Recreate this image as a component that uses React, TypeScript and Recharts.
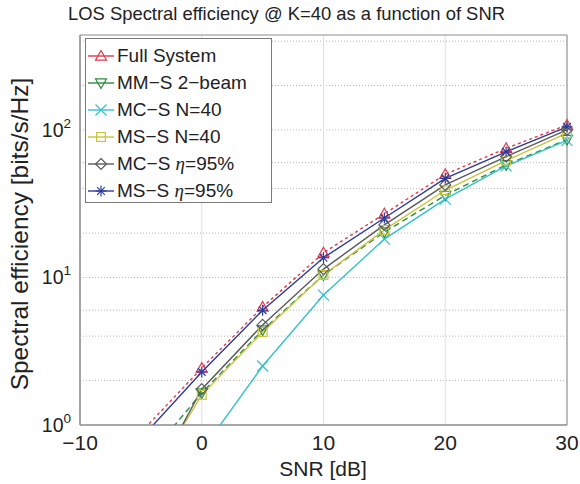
import React from "react";
import { LineChart, Line, XAxis, YAxis, CartesianGrid, ReferenceArea } from "recharts";

// SNR points in dB (the -5 dB point sits below the axis and only shows as the line leaving the plot)
const snrDb = [-5, 0, 5, 10, 15, 20, 25, 30];
const fullSystem = [0.89, 2.43, 6.3, 14.7, 27, 50, 75, 108];
const mmS2Beam = [0.53, 1.65, 4.4, 10.4, 20.3, 36, 58, 86];
const mcSN40 = [0.2, 0.67, 2.51, 7.6, 18.2, 34, 57, 85];
const msSN40 = [0.33, 1.6, 4.27, 10.4, 21, 39, 62, 95];
const mcSEta95 = [0.3, 1.75, 4.77, 11.4, 22.7, 42.4, 66, 100];
const msSEta95 = [0.81, 2.29, 6.0, 13.6, 25.3, 47, 71, 105];

const xTicks = [-10, 0, 10, 20, 30];
const yTicks = [1, 10, 100];
const yGridValues = [2, 3, 4, 5, 6, 7, 8, 9, 10, 20, 30, 40, 50, 60, 70, 80, 90, 100, 200, 300, 400];

const FONT = '"Liberation Sans", Arial, Helvetica, sans-serif';
const TEXT = "#222";

const series = [
  { key: "full", name: "Full System", color: "#e03a4e", dash: "3 3", shape: "triUp" },
  { key: "mm", name: "MM\u2212S 2\u2212beam", color: "#2e8c40", dash: "6 4", shape: "triDown" },
  { key: "mcN", name: "MC\u2212S N=40", color: "#33c2c9", dash: undefined, shape: "cross" },
  { key: "msN", name: "MS\u2212S N=40", color: "#c9c43c", dash: undefined, shape: "square" },
  { key: "mcEta", name: "MC\u2212S \u03b7=95%", color: "#5a5a5a", dash: undefined, shape: "diamond" },
  { key: "msEta", name: "MS\u2212S \u03b7=95%", color: "#2d3b9a", dash: undefined, shape: "star" }
];

const data = snrDb.map((snr, i) => ({
  snr,
  full: fullSystem[i],
  mm: mmS2Beam[i],
  mcN: mcSN40[i],
  msN: msSN40[i],
  mcEta: mcSEta95[i],
  msEta: msSEta95[i]
}));

const Marker = ({ shape, cx, cy, color }: { shape: string; cx: number; cy: number; color: string }) => {
  const s = 5.5;
  const common = { stroke: color, strokeWidth: 1.2, fill: "none" };
  switch (shape) {
    case "triUp":
      return <polygon points={`${cx},${cy - s} ${cx + s},${cy + s * 0.75} ${cx - s},${cy + s * 0.75}`} {...common} />;
    case "triDown":
      return <polygon points={`${cx},${cy + s} ${cx + s},${cy - s * 0.75} ${cx - s},${cy - s * 0.75}`} {...common} />;
    case "cross":
      return (
        <g {...common}>
          <line x1={cx - s} y1={cy - s} x2={cx + s} y2={cy + s} />
          <line x1={cx - s} y1={cy + s} x2={cx + s} y2={cy - s} />
        </g>
      );
    case "square":
      return <rect x={cx - s * 0.8} y={cy - s * 0.8} width={s * 1.6} height={s * 1.6} {...common} />;
    case "diamond":
      return <polygon points={`${cx},${cy - s} ${cx + s},${cy} ${cx},${cy + s} ${cx - s},${cy}`} {...common} />;
    default:
      return (
        <g {...common}>
          <line x1={cx} y1={cy - s} x2={cx} y2={cy + s} />
          <line x1={cx - s} y1={cy} x2={cx + s} y2={cy} />
          <line x1={cx - s * 0.7} y1={cy - s * 0.7} x2={cx + s * 0.7} y2={cy + s * 0.7} />
          <line x1={cx - s * 0.7} y1={cy + s * 0.7} x2={cx + s * 0.7} y2={cy - s * 0.7} />
        </g>
      );
  }
};

const XTick = ({ x, y, payload }: any) => (
  <text x={x} y={y} dy={17} textAnchor="middle" fontSize={21} fill={TEXT} fontFamily={FONT}>
    {String(payload.value).replace("-", "\u2212")}
  </text>
);

const YTick = ({ x, y, payload }: any) => {
  const exp = Math.round(Math.log10(payload.value));
  return (
    <text x={x - 1} y={y + 7} textAnchor="end" fontSize={19.5} fill={TEXT} fontFamily={FONT}>
      10
      <tspan dy={-9} fontSize={13.5}>
        {exp}
      </tspan>
    </text>
  );
};

const legendLabel = (name: string) => {
  const parts = name.split("\u03b7");
  if (parts.length < 2) return name;
  return (
    <>
      {parts[0]}
      <span style={{ fontStyle: "italic", fontFamily: '"Liberation Serif", serif' }}>{"\u03b7"}</span>
      {parts[1]}
    </>
  );
};

export default function App() {
  return (
    <div
      style={{
        position: "absolute",
        left: 0,
        top: 0,
        width: 580,
        height: 484,
        overflow: "hidden",
        fontFamily: FONT,
        background: "#fff"
      }}
    >
      <div
        style={{
          position: "absolute",
          left: 68,
          top: 3,
          fontSize: 18.4,
          lineHeight: "21px",
          whiteSpace: "nowrap",
          color: TEXT
        }}
      >
        LOS Spectral efficiency @ K=40 as a function of SNR
      </div>
      <LineChart width={580} height={484} data={data} margin={{ top: 35, right: 13, bottom: 0, left: 0 }}>
        <CartesianGrid vertical={false} horizontalValues={yGridValues} stroke="#b8b8b8" strokeDasharray="1 2" />
        <CartesianGrid horizontal={false} stroke="#e0e0e0" />
        <XAxis
          type="number"
          dataKey="snr"
          domain={[-10, 30]}
          ticks={xTicks}
          height={59}
          axisLine={{ stroke: "#8a8a8a" }}
          tickLine={false}
          tick={<XTick />}
          label={{
            content: () => (
              <text x={323} y={476} textAnchor="middle" fontSize={21} fill={TEXT} fontFamily={FONT}>
                SNR [dB]
              </text>
            )
          }}
        />
        <YAxis
          scale="log"
          domain={[1, 440]}
          allowDataOverflow
          ticks={yTicks}
          width={80}
          axisLine={{ stroke: "#8a8a8a" }}
          tickLine={false}
          tick={<YTick />}
          label={{
            content: () => (
              <text
                x={19}
                y={234}
                transform="rotate(-90 19 234)"
                textAnchor="middle"
                dominantBaseline="central"
                fontSize={24.5}
                fill={TEXT}
                fontFamily={FONT}
              >
                Spectral efficiency [bits/s/Hz]
              </text>
            )
          }}
        />
        <ReferenceArea x1={-10} x2={30} y1={1} y2={440} fill="none" stroke="#8a8a8a" strokeWidth={1} />
        {series.map((s) => (
          <Line
            key={s.key}
            dataKey={s.key}
            name={s.name}
            stroke={s.color}
            strokeWidth={1.4}
            strokeDasharray={s.dash}
            isAnimationActive={false}
            dot={(p: any) => <Marker key={`${s.key}-${p.index}`} shape={s.shape} cx={p.cx} cy={p.cy} color={s.color} />}
            activeDot={false}
          />
        ))}
      </LineChart>
      <div
        style={{
          position: "absolute",
          left: 85,
          top: 38,
          width: 187,
          height: 165,
          boxSizing: "border-box",
          border: "1px solid #7a7a7a",
          background: "#fff",
          paddingTop: 3
        }}
      >
        {series.map((s) => (
          <div key={s.key} style={{ height: 27, display: "flex", alignItems: "center" }}>
            <svg width={26} height={16} style={{ marginLeft: 2, marginRight: 3, flex: "none" }}>
              <line x1={0} y1={8} x2={26} y2={8} stroke={s.color} strokeWidth={1.4} />
              <Marker shape={s.shape} cx={13} cy={8} color={s.color} />
            </svg>
            <span style={{ fontSize: 19, color: TEXT, whiteSpace: "nowrap" }}>{legendLabel(s.name)}</span>
          </div>
        ))}
      </div>
    </div>
  );
}
